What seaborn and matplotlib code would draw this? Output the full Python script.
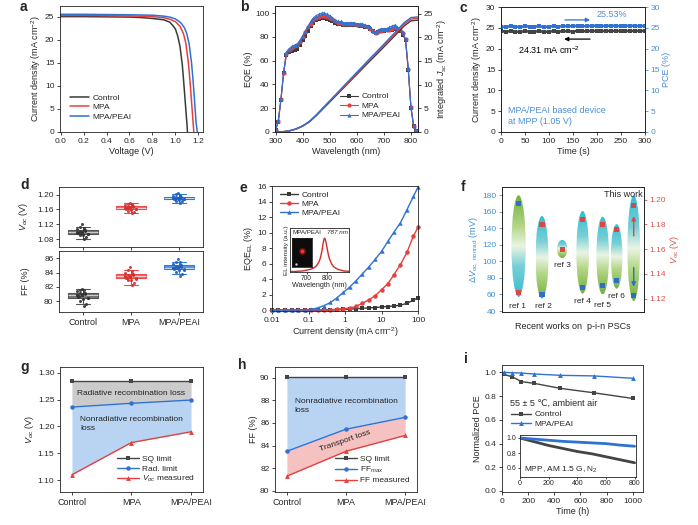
import numpy as np
import pandas as pd
import matplotlib
matplotlib.use("Agg")
import matplotlib.pyplot as plt
from matplotlib.patches import Ellipse
from matplotlib.colors import LinearSegmentedColormap, to_rgba
from matplotlib.ticker import FormatStrFormatter
import seaborn as sns

sns.set_style("ticks")
plt.rcParams['font.family'] = ['Liberation Sans', 'DejaVu Sans']
plt.rcParams['mathtext.fontset'] = 'custom'
plt.rcParams['mathtext.rm'] = 'Liberation Sans'
plt.rcParams['mathtext.it'] = 'Liberation Sans:italic'
plt.rcParams['font.size'] = 6
plt.rcParams['axes.labelsize'] = 6.5
plt.rcParams['xtick.labelsize'] = 6
plt.rcParams['ytick.labelsize'] = 6
plt.rcParams['legend.fontsize'] = 6
plt.rcParams['axes.linewidth'] = 0.6
plt.rcParams['axes.edgecolor'] = '#222222'
plt.rcParams['xtick.major.width'] = 0.6
plt.rcParams['ytick.major.width'] = 0.6
plt.rcParams['xtick.major.size'] = 2.5
plt.rcParams['ytick.major.size'] = 2.5
plt.rcParams['xtick.major.pad'] = 1.5
plt.rcParams['ytick.major.pad'] = 1.5
plt.rcParams['axes.labelpad'] = 1.5

C_CTRL = '#3a3a3a'
C_MPA = '#e5403e'
C_PEAI = '#2f72d2'
C_LBLUE = '#4a8fd8'

# ---------------- data ----------------
# a: J-V curves
volt_ctrl = [0.0, 0.2, 0.4, 0.6, 0.7, 0.8, 0.9, 0.95, 0.98, 1.0, 1.02, 1.04, 1.06, 1.07, 1.08, 1.09, 1.10, 1.105]
j_ctrl = [25.0, 25.0, 24.95, 24.9, 24.8, 24.6, 24.3, 23.8, 23.0, 22.3, 20.8, 18.5, 14.5, 11.5, 8.3, 5.0, 1.8, 0.0]
volt_mpa = [0.0, 0.2, 0.4, 0.6, 0.8, 0.9, 0.95, 1.0, 1.04, 1.07, 1.09, 1.11, 1.12, 1.13, 1.14, 1.15, 1.16]
j_mpa = [25.25, 25.25, 25.2, 25.15, 25.0, 24.75, 24.45, 23.9, 22.9, 21.3, 19.3, 15.6, 13.0, 10.0, 6.7, 3.3, 0.0]
volt_peai = [0.0, 0.2, 0.4, 0.6, 0.8, 0.9, 0.95, 1.0, 1.05, 1.08, 1.1, 1.12, 1.14, 1.15, 1.16, 1.17, 1.18, 1.19]
j_peai = [25.5, 25.5, 25.45, 25.4, 25.3, 25.1, 24.9, 24.5, 23.6, 22.5, 21.2, 19.0, 15.0, 12.2, 9.0, 5.5, 2.0, 0.0]

# b: EQE and integrated Jsc
wl_eqe = [300, 310, 320, 330, 340, 350, 360, 370, 380, 390,
          400, 410, 420, 430, 440, 450, 460, 470, 480, 490,
          500, 510, 520, 530, 540, 550, 560, 570, 580, 590,
          600, 610, 620, 630, 640, 650, 660, 670, 680, 690,
          700, 710, 720, 730, 740, 750, 760, 770, 780, 790,
          800, 810, 820, 830, 840, 850]
eqe_ctrl = [2, 8, 27, 50, 65, 67, 68, 69, 70, 73,
            77, 81, 85, 89, 92, 94, 95, 96, 96, 95,
            94, 93, 92, 91, 91, 90, 90, 90, 90, 90,
            90, 89, 89, 88, 88, 87, 85, 83, 84, 85,
            85, 86, 86, 86, 87, 86, 85, 82, 77, 52,
            20, 5, 1, 0, 0, 0]
eqe_mpa = [2, 9, 28, 50, 66, 69, 71, 72, 73, 76,
           80, 84, 88, 91, 94, 96, 97, 98, 98, 97,
           96, 95, 93, 92, 92, 91, 91, 91, 91, 91,
           90, 90, 90, 89, 88, 87, 85, 83, 84, 85,
           86, 86, 86, 87, 88, 87, 86, 83, 78, 53,
           21, 5, 1, 0, 0, 0]
eqe_peai = [2, 9, 28, 51, 67, 70, 72, 73, 74, 77,
            81, 85, 89, 93, 96, 98, 99, 100, 100, 99,
            98, 96, 94, 93, 93, 92, 92, 92, 92, 92,
            91, 91, 91, 90, 89, 88, 85, 84, 86, 87,
            87, 87, 88, 89, 90, 88, 87, 84, 78, 54,
            21, 5, 1, 0, 0, 0]
wl_int = [300, 325, 350, 375, 400, 425, 450, 475, 500, 525, 550, 575,
          600, 625, 650, 675, 700, 725, 750, 775, 800, 825, 850]
jint_ctrl = [0, 0.04, 0.22, 0.6, 1.22, 2.13, 3.42, 4.87, 6.32, 7.78, 9.24, 10.7,
             12.16, 13.62, 15.08, 16.5, 17.96, 19.42, 20.88, 22.4, 23.46, 23.62, 23.62]
jint_mpa = [0, 0.04, 0.23, 0.63, 1.27, 2.2, 3.52, 5.0, 6.48, 7.96, 9.44, 10.92,
            12.4, 13.88, 15.36, 16.8, 18.28, 19.76, 21.24, 22.78, 23.84, 24.0, 24.0]
jint_peai = [0, 0.04, 0.24, 0.65, 1.3, 2.25, 3.6, 5.1, 6.6, 8.1, 9.6, 11.1,
             12.6, 14.1, 15.6, 17.05, 18.55, 20.05, 21.55, 23.1, 24.15, 24.3, 24.3]

# c: MPP tracking
time_s = [0, 10, 20, 30, 40, 50, 60, 70, 80, 90, 100, 110, 120, 130, 140, 150,
          160, 170, 180, 190, 200, 210, 220, 230, 240, 250, 260, 270, 280, 290, 300]
mpp_j = [24.2, 24.1, 24.2, 24.1, 24.0, 24.2, 24.1, 24.1, 24.2, 24.0, 24.1, 24.2, 24.1, 24.2, 24.2,
         24.1, 24.3, 24.2, 24.2, 24.3, 24.2, 24.2, 24.3, 24.2, 24.3, 24.2, 24.3, 24.2, 24.3, 24.2, 24.3]
mpp_pce = [25.3, 25.2, 25.4, 25.3, 25.2, 25.4, 25.3, 25.3, 25.4, 25.2, 25.3, 25.4, 25.3, 25.4, 25.4,
           25.4, 25.5, 25.4, 25.4, 25.5, 25.5, 25.4, 25.5, 25.5, 25.5, 25.4, 25.5, 25.5, 25.5, 25.4, 25.5]

# d: statistics
groups = ['Control', 'MPA', 'MPA/PEAI']
voc_ctrl = [1.080, 1.086, 1.090, 1.092, 1.093, 1.095, 1.096, 1.097, 1.098, 1.098,
            1.099, 1.100, 1.101, 1.102, 1.104, 1.105, 1.107, 1.110, 1.113, 1.120]
voc_mpa = [1.150, 1.154, 1.157, 1.158, 1.160, 1.161, 1.162, 1.163, 1.164, 1.165,
           1.165, 1.166, 1.167, 1.168, 1.170, 1.171, 1.172, 1.174, 1.176, 1.178]
voc_peai = [1.178, 1.182, 1.184, 1.186, 1.187, 1.188, 1.189, 1.189, 1.190, 1.190,
            1.191, 1.191, 1.192, 1.193, 1.194, 1.195, 1.196, 1.198, 1.201, 1.205]
ff_ctrl = [79.3, 79.6, 80.0, 80.3, 80.4, 80.5, 80.6, 80.7, 80.8, 80.8,
           80.9, 80.9, 81.0, 81.1, 81.2, 81.2, 81.4, 81.5, 81.6, 81.7]
ff_mpa = [82.3, 82.6, 82.9, 83.0, 83.1, 83.2, 83.3, 83.3, 83.4, 83.4,
          83.5, 83.5, 83.6, 83.7, 83.8, 83.8, 84.0, 84.2, 84.3, 84.8]
ff_peai = [83.5, 83.8, 84.1, 84.3, 84.4, 84.5, 84.5, 84.6, 84.6, 84.7,
           84.7, 84.8, 84.8, 84.9, 85.0, 85.0, 85.2, 85.4, 85.5, 85.9]

# e: EQE_EL
jd_el = [0.01, 0.015, 0.023, 0.035, 0.052, 0.078, 0.12, 0.18, 0.27, 0.4, 0.6, 0.9,
         1.35, 2.0, 3.0, 4.5, 6.8, 10, 15, 22, 33, 50, 75, 100]
el_ctrl = [0.01, 0.01, 0.01, 0.01, 0.01, 0.01, 0.01, 0.01, 0.01, 0.02, 0.05, 0.1,
           0.15, 0.2, 0.25, 0.3, 0.35, 0.42, 0.48, 0.55, 0.65, 0.9, 1.3, 1.6]
el_mpa = [0.02, 0.02, 0.02, 0.02, 0.02, 0.03, 0.03, 0.04, 0.05, 0.08, 0.12, 0.2,
          0.28, 0.5, 0.9, 1.35, 1.9, 2.65, 3.45, 4.6, 5.9, 7.5, 9.6, 10.7]
el_peai = [0.02, 0.02, 0.02, 0.03, 0.04, 0.06, 0.12, 0.3, 0.6, 1.0, 1.6, 2.3,
           3.0, 3.8, 4.7, 5.6, 6.6, 7.6, 8.9, 10.1, 11.3, 13.0, 14.7, 15.9]
el_wl = [620, 680, 720, 740, 750, 760, 765, 770, 775, 780, 785, 787, 790, 795,
         800, 805, 810, 820, 830, 850, 880, 905]
el_int = [0.01, 0.03, 0.08, 0.14, 0.2, 0.3, 0.38, 0.5, 0.65, 0.85, 0.98, 1.0, 0.97, 0.85,
          0.68, 0.52, 0.4, 0.25, 0.16, 0.08, 0.03, 0.02]

# f: literature comparison
ref_names = ['ref 1', 'ref 2', 'ref 3', 'ref 4', 'ref 5', 'ref 6']
span_lo = [57, 55, 104, 61, 60, 67, 52]
span_hi = [180, 155, 126, 161, 154, 145, 180]
dv_nonrad = [170, 60, np.nan, 68, 71, 77, 59]
voc_lit = [1.125, 1.180, 1.160, 1.184, 1.180, 1.176, 1.195]

# g: Voc losses
cats = ['Control', 'MPA', 'MPA/PEAI']
voc_sq = [1.285, 1.285, 1.285]
voc_rad = [1.236, 1.243, 1.249]
voc_meas = [1.110, 1.170, 1.190]

# h: FF losses
ff_sq = [90.1, 90.1, 90.1]
ff_max = [83.5, 85.45, 86.5]
ff_meas = [81.3, 83.5, 84.9]

# i: stability
stab_t = [12, 77, 148, 247, 446, 701, 1000]
stab_ctrl = [0.983, 0.963, 0.922, 0.907, 0.865, 0.828, 0.78]
stab_peai = [1.0, 0.997, 0.994, 0.986, 0.975, 0.97, 0.95]
mpp_t = [0, 100, 200, 300, 400, 500, 600, 700, 800]
mpp_ctrl = [1.0, 0.95, 0.90, 0.86, 0.82, 0.79, 0.75, 0.71, 0.67]
mpp_peai = [1.0, 0.985, 0.97, 0.955, 0.945, 0.935, 0.925, 0.905, 0.89]

# ---------------- figure ----------------
W, H = 698, 525
fig = plt.figure(figsize=(W / 100, H / 100), dpi=100)


def box(l, t, r, b):
    return fig.add_axes([l / W, 1 - b / H, (r - l) / W, (b - t) / H])


def letter(x, y, s):
    fig.text(x / W, 1 - y / H, s, fontsize=10, fontweight='bold', va='top', ha='left')


series3 = [('Control', C_CTRL, 's'), ('MPA', C_MPA, 'o'), ('MPA/PEAI', C_PEAI, '^')]

# ===== a =====
ax = box(60, 6, 203, 132)
for (lab, c, m), v, j in zip(series3, [volt_ctrl, volt_mpa, volt_peai], [j_ctrl, j_mpa, j_peai]):
    sns.lineplot(x=v, y=j, ax=ax, color=c, lw=1.1, label=lab, sort=False, errorbar=None)
ax.set_xlim(-0.005, 1.24)
ax.set_ylim(0, 27.3)
ax.set_xticks([0, 0.2, 0.4, 0.6, 0.8, 1.0, 1.2])
ax.xaxis.set_major_formatter(FormatStrFormatter('%.1f'))
ax.set_yticks([0, 5, 10, 15, 20, 25])
ax.set_xlabel('Voltage (V)')
ax.set_ylabel('Current density (mA cm$^{-2}$)')
ax.legend(loc='lower left', bbox_to_anchor=(0.02, 0.03), frameon=False, handlelength=2.2,
          labelspacing=0.2, handletextpad=0.5)
letter(20, 0, 'a')

# ===== b =====
ax = box(275, 6, 418, 132)
for (lab, c, m), y in zip(series3, [eqe_ctrl, eqe_mpa, eqe_peai]):
    sns.lineplot(x=wl_eqe, y=y, ax=ax, color=c, lw=0.8, marker=m, markersize=3,
                 markeredgewidth=0, label=lab, errorbar=None)
ax.set_xlim(298, 826)
ax.set_ylim(0, 106)
ax.set_xticks([300, 400, 500, 600, 700, 800])
ax.set_yticks([0, 20, 40, 60, 80, 100])
ax.set_xlabel('Wavelength (nm)')
ax.set_ylabel('EQE (%)')
ax.legend(loc='lower right', bbox_to_anchor=(0.93, 0.04), frameon=False, handlelength=2.2,
          labelspacing=0.2, handletextpad=0.4)
axr = ax.twinx()
for (lab, c, m), y in zip(series3, [jint_ctrl, jint_mpa, jint_peai]):
    sns.lineplot(x=wl_int, y=y, ax=axr, color=c, lw=1.0, errorbar=None)
axr.set_ylim(0, 26.6)
axr.set_yticks([0, 5, 10, 15, 20, 25])
axr.set_ylabel('Integrated $J_{sc}$ (mA cm$^{-2}$)')
letter(240, 0, 'b')

# ===== c =====
ax = box(501, 7, 645, 132)
sns.lineplot(x=time_s, y=mpp_j, ax=ax, color='#444444', lw=1.8, marker='s', markersize=3.4,
             markeredgewidth=0, errorbar=None)
ax.set_xlim(0, 301)
ax.set_ylim(0, 30)
ax.set_xticks([0, 50, 100, 150, 200, 250, 300])
ax.set_yticks([0, 5, 10, 15, 20, 25, 30])
ax.set_xlabel('Time (s)')
ax.set_ylabel('Current density (mA cm$^{-2}$)')
axr = ax.twinx()
sns.lineplot(x=time_s, y=mpp_pce, ax=axr, color=C_PEAI, lw=1.8, marker='s', markersize=3.4,
             markeredgewidth=0, errorbar=None)
axr.set_ylim(0, 30)
axr.set_yticks([0, 5, 10, 15, 20, 25, 30])
axr.tick_params(axis='y', colors=C_LBLUE)
axr.set_ylabel('PCE (%)', color=C_LBLUE)
axr.annotate('', xy=(192, 26.9), xytext=(128, 26.9),
             arrowprops=dict(arrowstyle='-|>', color=C_PEAI, lw=0.9, mutation_scale=6))
ax.annotate('', xy=(126, 22.3), xytext=(192, 22.3),
            arrowprops=dict(arrowstyle='-|>', color='black', lw=0.9, mutation_scale=6))
ax.text(200, 28.2, '25.53%', color=C_LBLUE, fontsize=6.5, va='center')
ax.text(36, 19.7, '24.31 mA cm$^{-2}$', color='black', fontsize=6.5, va='center')
ax.text(14, 5.2, 'MPA/PEAI based device', color=C_LBLUE, fontsize=6.5, va='center')
ax.text(14, 2.6, 'at MPP (1.05 V)', color=C_LBLUE, fontsize=6.5, va='center')
letter(459, 1, 'c')

# ===== d =====
colors_d = ['#555555', '#e84c4c', '#2e7bd8']
dark_d = ['#333333', '#d43030', '#1f5fbf']
ax_u = box(59, 187, 203, 247)
ax_l = box(59, 251, 203, 312)
for axd, vals in [(ax_u, [voc_ctrl, voc_mpa, voc_peai]), (ax_l, [ff_ctrl, ff_mpa, ff_peai])]:
    for g, v, c, dc in zip(groups, vals, colors_d, dark_d):
        sns.boxplot(x=[g] * len(v), y=v, order=groups, ax=axd, width=0.62, showfliers=False,
                    boxprops=dict(facecolor=to_rgba(c, 0.8), edgecolor=c, linewidth=0.8),
                    whiskerprops=dict(color=c, linewidth=0.8),
                    capprops=dict(color=c, linewidth=0.8),
                    medianprops=dict(color='#f2f2f2', linewidth=0.5))
        np.random.seed(3)
        sns.stripplot(x=[g] * len(v), y=v, order=groups, ax=axd, color=dc, size=2.2,
                      jitter=0.13, alpha=0.9)
    axd.set_xlim(-0.5, 2.5)
    axd.set_xlabel('')
ax_u.set_ylim(1.059, 1.2205)
ax_u.set_yticks([1.08, 1.12, 1.16, 1.20])
ax_u.yaxis.set_major_formatter(FormatStrFormatter('%.2f'))
ax_u.set_xticklabels([])
ax_u.set_ylabel('$V_{oc}$ (V)')
ax_l.set_ylim(78.5, 87.0)
ax_l.set_yticks([80, 82, 84, 86])
ax_l.set_ylabel('FF (%)')
ax_l.tick_params(axis='x', labelsize=6.5)
for axd in (ax_u, ax_l):
    axd.yaxis.set_label_coords(-0.2, 0.5)
letter(20, 178, 'd')

# ===== e =====
ax = box(272, 186, 418, 311)
for (lab, c, m), y in zip(series3, [el_ctrl, el_mpa, el_peai]):
    sns.lineplot(x=jd_el, y=y, ax=ax, color=c, lw=1.0, marker=m, markersize=3.2,
                 markeredgewidth=0, label=lab, errorbar=None, clip_on=False)
ax.set_xscale('log')
ax.set_xlim(0.01, 100)
ax.set_ylim(-0.1, 16.05)
ax.set_xticks([0.01, 0.1, 1, 10, 100])
ax.set_xticklabels(['0.01', '0.1', '1', '10', '100'])
ax.minorticks_off()
ax.set_yticks([0, 2, 4, 6, 8, 10, 12, 14, 16])
ax.set_xlabel('Current density (mA cm$^{-2}$)')
ax.set_ylabel('EQE$_{\\mathrm{EL}}$ (%)')
ax.legend(loc='upper left', bbox_to_anchor=(0.0, 1.02), frameon=False, handlelength=2.2,
          labelspacing=0.15, handletextpad=0.4)
ins = box(290, 228, 349, 272)
ins.plot(el_wl, el_int, color='#d22a2a', lw=1.0)
ins.set_xlim(620, 905)
ins.set_ylim(0, 1.3)
ins.set_xticks([700, 800])
ins.set_yticks([])
ins.tick_params(axis='x', labelsize=4.8, length=1.5, pad=1)
ins.set_xlabel('Wavelength (nm)', fontsize=5.2, labelpad=0)
ins.set_ylabel('EL intensity (a.u.)', fontsize=4.6, labelpad=1)
ins.text(0.04, 0.9, 'MPA/PEAI', transform=ins.transAxes, fontsize=4.5, va='center')
ins.text(0.63, 0.9, '787 nm', transform=ins.transAxes, fontsize=4.5, va='center', style='italic')
photo = box(292, 238, 312, 267)
photo.set_facecolor('#0c0c0c')
photo.set_xticks([])
photo.set_yticks([])
photo.set_xlim(0, 1)
photo.set_ylim(0, 1)
photo.scatter([0.5], [0.55], s=28, color='#b01818', alpha=0.5, linewidths=0)
photo.scatter([0.5], [0.55], s=8, color='#ff3030', linewidths=0)
photo.scatter([0.22], [0.1], s=3, color='#cccccc', linewidths=0)
letter(240, 181, 'e')

# ===== f =====
C_FL = '#3d8fd1'
C_FR = '#d9534f'
axf = box(502, 187, 644, 312)
ell_x = [1.0, 2.41, 3.63, 4.86, 6.07, 6.91, 7.94]
ell_w = [0.86, 0.78, 0.62, 0.76, 0.76, 0.7, 0.76]
cmap_f = LinearSegmentedColormap.from_list(
    'f', [(0.0, '#33bdd1'), (0.3, '#78d0d6'), (0.5, '#eaf4e4'), (0.7, '#b2d686'), (1.0, '#74b03e')])
grad = np.linspace(0, 1, 120).reshape(-1, 1)
for i, (xc, w, lo, hi) in enumerate(zip(ell_x, ell_w, span_lo, span_hi)):
    ell = Ellipse((xc, (lo + hi) / 2), w, hi - lo, facecolor='none', edgecolor='none')
    axf.add_patch(ell)
    img = grad[::-1] if i == 0 else grad
    im = axf.imshow(img, extent=(xc - w / 2, xc + w / 2, lo, hi), cmap=cmap_f,
                    aspect='auto', zorder=1)
    im.set_clip_path(ell)
axf.set_xlim(0, 8.56)
axf.set_ylim(38.8, 190)
sns.scatterplot(x=ell_x, y=dv_nonrad, ax=axf, marker='s', s=14, color='#2f6fc6',
                edgecolor='none', zorder=3)
axf.set_xticks([])
axf.set_yticks([40, 60, 80, 100, 120, 140, 160, 180])
axf.tick_params(axis='y', colors=C_FL)
axf.set_ylabel('$\\Delta V_{\\mathrm{oc,\\ nonrad}}$ (mV)', color=C_FL)
axf.set_xlabel('Recent works on  p-i-n PSCs', labelpad=7)
for name, xt, yt in zip(ref_names, [0.94, 2.5, 3.66, 4.86, 6.04, 6.9], [45.7, 45, 94.5, 51.7, 47, 57.8]):
    axf.text(xt, yt, name, fontsize=6, ha='center', va='center')
axf.text(8.5, 181, 'This work', fontsize=6.5, ha='right', va='center')
axf.annotate('', xy=(ell_x[-1], 66), xytext=(ell_x[-1], 96),
             arrowprops=dict(arrowstyle='-|>', color='#2f6fc6', lw=1.0, mutation_scale=6))
axfr = axf.twinx()
sns.scatterplot(x=ell_x, y=voc_lit, ax=axfr, marker='s', s=14, color='#d94848',
                edgecolor='none', zorder=3)
axfr.set_xlim(0, 8.56)
axfr.set_ylim(1.1092, 1.2102)
axfr.set_yticks([1.12, 1.14, 1.16, 1.18, 1.20])
axfr.yaxis.set_major_formatter(FormatStrFormatter('%.2f'))
axfr.tick_params(axis='y', colors=C_FR)
axfr.set_ylabel('$V_{\\mathrm{oc}}$ (V)', color=C_FR)
axfr.annotate('', xy=(ell_x[-1], 1.189), xytext=(ell_x[-1], 1.1685),
              arrowprops=dict(arrowstyle='-|>', color='#d94848', lw=1.0, mutation_scale=6))
letter(461, 180, 'f')

# ===== g =====
xg = [0, 1, 2]
ax = box(60, 367, 203, 492)
ax.fill_between(xg, voc_rad, voc_sq, color='#cbcbcb', lw=0)
ax.fill_between(xg, voc_meas, voc_rad, color='#b9d4f3', lw=0)
sns.lineplot(x=xg, y=voc_sq, ax=ax, color='#454545', marker='s', markersize=3.2,
             markeredgewidth=0, lw=1.0, label='SQ limit', errorbar=None)
sns.lineplot(x=xg, y=voc_rad, ax=ax, color=C_PEAI, marker='o', markersize=3.2,
             markeredgewidth=0, lw=1.0, label='Rad. limit', errorbar=None)
sns.lineplot(x=xg, y=voc_meas, ax=ax, color=C_MPA, marker='^', markersize=3.5,
             markeredgewidth=0, lw=1.0, label='$V_{oc}$ measured', errorbar=None)
ax.set_xlim(-0.2, 2.2)
ax.set_ylim(1.078, 1.3105)
ax.set_xticks(xg)
ax.set_xticklabels(cats, fontsize=6.5)
ax.set_yticks([1.10, 1.15, 1.20, 1.25, 1.30])
ax.yaxis.set_major_formatter(FormatStrFormatter('%.2f'))
ax.set_ylabel('$V_{oc}$ (V)')
ax.text(1, 1.261, 'Radiative recombination loss', fontsize=6, ha='center', va='center', color='#222222')
ax.text(0.14, 1.204, 'Nonradiative recombination\nloss', fontsize=6, ha='left', va='center',
        color='#222222', linespacing=1.4)
ax.legend(loc='lower right', bbox_to_anchor=(1.0, 0.0), frameon=False, handlelength=2.6,
          labelspacing=0.2, handletextpad=0.4)
letter(20, 360, 'g')

# ===== h =====
ax = box(275, 367, 417, 492)
ax.fill_between(xg, ff_max, ff_sq, color='#b9d4f3', lw=0)
ax.fill_between(xg, ff_meas, ff_max, color='#f6c1c1', lw=0)
sns.lineplot(x=xg, y=ff_sq, ax=ax, color='#454545', marker='s', markersize=3.2,
             markeredgewidth=0, lw=1.0, label='SQ limit', errorbar=None)
sns.lineplot(x=xg, y=ff_max, ax=ax, color=C_PEAI, marker='o', markersize=3.2,
             markeredgewidth=0, lw=1.0, label='FF$_{max}$', errorbar=None)
sns.lineplot(x=xg, y=ff_meas, ax=ax, color=C_MPA, marker='^', markersize=3.5,
             markeredgewidth=0, lw=1.0, label='FF measured', errorbar=None)
ax.set_xlim(-0.2, 2.2)
ax.set_ylim(79.9, 90.95)
ax.set_xticks(xg)
ax.set_xticklabels(cats, fontsize=6.5)
ax.set_yticks([80, 82, 84, 86, 88, 90])
ax.set_ylabel('FF (%)')
ax.text(0.13, 87.5, 'Nonradiative recombination\nloss', fontsize=6, ha='left', va='center',
        color='#222222', linespacing=1.4)
ax.text(0.98, 84.4, 'Transport loss', fontsize=6, ha='center', va='center', rotation=19,
        color='#222222')
ax.legend(loc='lower right', bbox_to_anchor=(1.0, 0.0), frameon=False, handlelength=2.6,
          labelspacing=0.2, handletextpad=0.4)
letter(238, 358, 'h')

# ===== i =====
ax = box(502, 365, 643, 492)
sns.lineplot(x=stab_t, y=stab_ctrl, ax=ax, color='#444444', marker='s', markersize=3.2,
             markeredgewidth=0, lw=1.0, label='Control', errorbar=None)
sns.lineplot(x=stab_t, y=stab_peai, ax=ax, color=C_PEAI, marker='^', markersize=3.5,
             markeredgewidth=0, lw=1.0, label='MPA/PEAI', errorbar=None)
ax.set_xlim(0, 1078)
ax.set_ylim(-0.0085, 1.062)
ax.set_xticks([0, 200, 400, 600, 800, 1000])
ax.set_yticks([0.0, 0.2, 0.4, 0.6, 0.8, 1.0])
ax.yaxis.set_major_formatter(FormatStrFormatter('%.1f'))
ax.set_xlabel('Time (h)')
ax.set_ylabel('Normalized PCE')
ax.text(59, 0.738, '55 ± 5 ℃, ambient air', fontsize=6.5, va='center')
ax.legend(loc='upper left', bbox_to_anchor=(0.01, 0.7), frameon=False, handlelength=2.4,
          labelspacing=0.15, handletextpad=0.4)
ins = box(520, 435, 636, 477)
sns.lineplot(x=mpp_t, y=mpp_ctrl, ax=ins, color='#444444', lw=2.0, errorbar=None)
sns.lineplot(x=mpp_t, y=mpp_peai, ax=ins, color=C_PEAI, lw=2.0, errorbar=None)
ins.set_xlim(0, 810)
ins.set_ylim(0.48, 1.04)
ins.set_xticks([0, 200, 400, 600, 800])
ins.set_yticks([0.6, 0.8, 1.0])
ins.yaxis.set_major_formatter(FormatStrFormatter('%.1f'))
ins.tick_params(labelsize=5, length=1.5, pad=1)
ins.text(30, 0.58, 'MPP, AM 1.5 G, N$_2$', fontsize=6, va='center')
letter(464, 352, 'i')

fig.savefig('out.png', dpi=100)
